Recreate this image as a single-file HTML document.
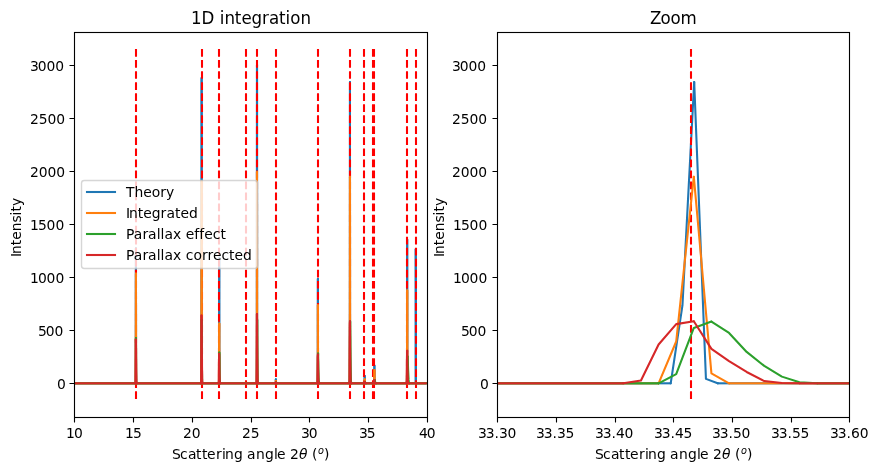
<!DOCTYPE html>
<html lang="en"><head><meta charset="utf-8"><title>1D integration</title>
<style>html,body{margin:0;padding:0;background:#fff;overflow:hidden}svg{display:block}text{font-family:"DejaVu Sans", "Liberation Sans", sans-serif;fill:#000}</style>
</head><body>
<svg width="879" height="475" viewBox="0 0 879 475">
<rect width="879" height="475" fill="#fff"/>
<defs>
<clipPath id="c0"><rect x="74.4" y="31.72" width="352.27" height="385"/></clipPath>
<clipPath id="c1"><rect x="497.13" y="31.72" width="352.27" height="385"/></clipPath>
</defs>
<g clip-path="url(#c0)" fill="none" stroke-width="2.08" stroke-linejoin="round" stroke-linecap="round">
<rect x="74.4" y="382.269" width="61.08" height="2.083" fill="#1f77b4" stroke="none"/><rect x="136.31" y="382.269" width="64.84" height="2.083" fill="#1f77b4" stroke="none"/><rect x="201.97" y="382.269" width="16.8" height="2.083" fill="#1f77b4" stroke="none"/><rect x="219.59" y="382.269" width="25.84" height="2.083" fill="#1f77b4" stroke="none"/><rect x="246.13" y="382.269" width="10.45" height="2.083" fill="#1f77b4" stroke="none"/><rect x="257.41" y="382.269" width="18.09" height="2.083" fill="#1f77b4" stroke="none"/><rect x="276.32" y="382.269" width="41.23" height="2.083" fill="#1f77b4" stroke="none"/><rect x="318.26" y="382.269" width="31.48" height="2.083" fill="#1f77b4" stroke="none"/><rect x="350.21" y="382.269" width="14.1" height="2.083" fill="#1f77b4" stroke="none"/><rect x="365.13" y="382.269" width="8.93" height="2.083" fill="#1f77b4" stroke="none"/><rect x="374.76" y="382.269" width="32.07" height="2.083" fill="#1f77b4" stroke="none"/><rect x="407.65" y="382.269" width="7.75" height="2.083" fill="#1f77b4" stroke="none"/><rect x="416.22" y="382.269" width="10.45" height="2.083" fill="#1f77b4" stroke="none"/><path d="M74.4 383.31h0.01M135.48 383.31h0.01M135.95 248.3L136.07 382.97L136.19 383.31L136.31 383.31M201.15 383.31L201.26 383.31L201.38 383.3L201.5 352.01L201.62 78.07M201.97 383.31h0.01M218.77 383.31h0.01M219.24 257.84L219.35 382.48L219.47 383.31L219.59 383.31M245.43 383.31L245.55 383.31L245.66 383.3L245.78 382.67M246.13 383.31h0.01M256.59 383.31h0.01M257.06 65.13L257.18 382.7L257.29 383.31L257.41 383.31M275.5 383.31L275.62 383.31L275.74 383.3L275.85 379.28M276.32 383.31h0.01M317.55 383.31h0.01M317.9 278.74L318.02 379.76L318.14 383.31L318.26 383.31M349.74 383.31L349.85 305.46L349.97 81.99M350.21 383.31h0.01M364.3 383.31h0.01M364.66 375.78L364.77 379.74L364.89 383.31L365.01 383.31L365.13 383.31M374.05 383.31L374.17 383.31L374.29 382.3L374.4 365.49M374.76 383.31h0.01M406.82 383.31h0.01M407.18 239.39L407.29 361.91L407.41 383.3L407.53 383.31L407.65 383.31M415.4 383.31L415.52 383.31L415.63 382.86L415.75 249.25M416.22 383.31h0.01M426.68 383.31h0.01" stroke="#1f77b4"/><path d="M135.48 383.31L135.6 383.31L135.72 383.16L135.84 279.1L135.95 248.3M136.31 383.31h0.01M201.15 383.31h0.01M201.62 78.07L201.73 377.59L201.85 383.31L201.97 383.31M218.77 383.31L218.88 383.31L219 383.29L219.12 346.93L219.24 257.84M219.59 383.31h0.01M245.43 383.31h0.01M245.78 382.67L245.9 383.24L246.02 383.31L246.13 383.31M256.59 383.31L256.71 383.31L256.82 382.7L256.94 65.27L257.06 65.13M257.41 383.31h0.01M275.5 383.31h0.01M275.85 379.28L275.97 381.14L276.09 383.31L276.21 383.31L276.32 383.31M317.55 383.31L317.67 383.31L317.79 377.39L317.9 278.74M318.26 383.31h0.01M349.74 383.31h0.01M349.97 81.99L350.09 378.86L350.21 383.31M364.3 383.31L364.42 383.31L364.54 383.28L364.66 375.78M365.13 383.31h0.01M374.05 383.31h0.01M374.4 365.49L374.52 382.7L374.64 383.31L374.76 383.31M406.82 383.31L406.94 383.31L407.06 381.45L407.18 239.39M407.65 383.31h0.01M415.4 383.31h0.01M415.75 249.25L415.87 307.18L415.99 383.23L416.1 383.31L416.22 383.31" stroke="#1f77b4"/>

<path d="M136 399V49M202 399V49M219 399V49M246 399V49M257 399V49M276 399V49M318 399V49M350 399V49M364 399V49M373 399V49M374 399V49M407 399V49M416 399V49" stroke="#ff0000" stroke-linecap="butt" stroke-dasharray="7.71 3.33"/>
<rect x="74.49" y="382.269" width="60.77" height="2.083" fill="#ff7f0e" stroke="none"/><rect x="136.49" y="382.269" width="64.47" height="2.083" fill="#ff7f0e" stroke="none"/><rect x="202.19" y="382.269" width="16.38" height="2.083" fill="#ff7f0e" stroke="none"/><rect x="219.8" y="382.269" width="25.36" height="2.083" fill="#ff7f0e" stroke="none"/><rect x="246.4" y="382.269" width="9.86" height="2.083" fill="#ff7f0e" stroke="none"/><rect x="257.67" y="382.269" width="17.61" height="2.083" fill="#ff7f0e" stroke="none"/><rect x="276.52" y="382.269" width="40.69" height="2.083" fill="#ff7f0e" stroke="none"/><rect x="318.62" y="382.269" width="31" height="2.083" fill="#ff7f0e" stroke="none"/><rect x="350.32" y="382.269" width="13.74" height="2.083" fill="#ff7f0e" stroke="none"/><rect x="365.29" y="382.269" width="8.45" height="2.083" fill="#ff7f0e" stroke="none"/><rect x="374.98" y="382.269" width="31.53" height="2.083" fill="#ff7f0e" stroke="none"/><rect x="407.92" y="382.269" width="18.67" height="2.083" fill="#ff7f0e" stroke="none"/><path d="M74.49 383.31h0.01M135.26 383.31h0.01M135.96 273.64L136.14 381.39L136.31 383.31L136.49 383.31M200.96 383.31L201.13 383.31L201.31 382.88L201.49 284.09L201.66 181.58M202.19 383.31h0.01M218.57 383.31h0.01M219.28 323.6L219.45 382.56L219.63 383.31L219.8 383.31M245.17 383.31L245.34 383.31L245.52 383.31L245.7 383.04L245.87 382.89M246.4 383.31h0.01M256.26 383.31h0.01M256.97 172.04L257.14 336.98L257.32 383.22L257.5 383.31L257.67 383.31M275.29 383.31L275.46 383.31L275.64 383.29L275.82 381.08M276.52 383.31h0.01M317.21 383.31h0.01M317.91 305.36L318.09 377.95L318.26 383.31L318.44 383.31L318.62 383.31M349.62 383.31L349.79 341.52L349.97 176.7M350.32 383.31h0.01M364.06 383.31h0.01M364.76 379.39L364.94 383.24L365.12 383.31L365.29 383.31M373.75 383.31L373.92 383.31L374.1 383.29L374.28 378.38L374.45 370.16M374.98 383.31h0.01M406.51 383.31h0.01M407.21 290.19L407.39 377.11L407.57 383.31L407.74 383.31L407.92 383.31" stroke="#ff7f0e"/><path d="M135.26 383.31L135.43 383.31L135.61 383.06L135.79 327.78L135.96 273.64M136.49 383.31h0.01M200.96 383.31h0.01M201.66 181.58L201.84 379.68L202.01 383.31L202.19 383.31M218.57 383.31L218.75 383.31L218.92 383.04L219.1 340.95L219.28 323.6M219.8 383.31h0.01M245.17 383.31h0.01M245.87 382.89L246.05 383.31L246.22 383.31L246.4 383.31M256.26 383.31L256.44 383.31L256.62 383.31L256.79 374.77L256.97 172.04M257.67 383.31h0.01M275.29 383.31h0.01M275.82 381.08L275.99 381.26L276.17 383.29L276.34 383.31L276.52 383.31M317.21 383.31L317.38 383.31L317.56 383.3L317.74 373.26L317.91 305.36M318.62 383.31h0.01M349.62 383.31h0.01M349.97 176.7L350.14 373.34L350.32 383.31M364.06 383.31L364.24 383.31L364.41 383.3L364.59 381.25L364.76 379.39M365.29 383.31h0.01M373.75 383.31h0.01M374.45 370.16L374.63 383L374.8 383.31L374.98 383.31M406.51 383.31L406.68 383.31L406.86 383.3L407.04 370.91L407.21 290.19M407.92 383.31h0.01M426.59 383.31h0.01" stroke="#ff7f0e"/>

<rect x="74.49" y="382.269" width="61.3" height="2.083" fill="#2ca02c" stroke="none"/><rect x="136.31" y="382.269" width="64.99" height="2.083" fill="#2ca02c" stroke="none"/><rect x="202.37" y="382.269" width="16.56" height="2.083" fill="#2ca02c" stroke="none"/><rect x="219.98" y="382.269" width="36.64" height="2.083" fill="#2ca02c" stroke="none"/><rect x="257.85" y="382.269" width="17.79" height="2.083" fill="#2ca02c" stroke="none"/><rect x="276.87" y="382.269" width="40.69" height="2.083" fill="#2ca02c" stroke="none"/><rect x="319.14" y="382.269" width="30.47" height="2.083" fill="#2ca02c" stroke="none"/><rect x="351.2" y="382.269" width="13.03" height="2.083" fill="#2ca02c" stroke="none"/><rect x="366.17" y="382.269" width="7.75" height="2.083" fill="#2ca02c" stroke="none"/><rect x="376.04" y="382.269" width="30.47" height="2.083" fill="#2ca02c" stroke="none"/><rect x="409.33" y="382.269" width="17.26" height="2.083" fill="#2ca02c" stroke="none"/><path d="M74.49 383.31h0.01M135.79 383.31h0.01M135.96 337.92L136.14 372.46L136.31 383.31M201.31 383.31L201.49 378.22L201.66 319.67M202.37 383.31h0.01M218.92 383.31h0.01M219.28 352.55L219.45 361.63L219.63 375.88L219.8 382.83L219.98 383.31M256.62 383.31L256.79 382.67L256.97 346.49L257.14 319.67M257.85 383.31h0.01M275.64 383.31h0.01M275.99 382.46L276.17 382.57L276.34 382.91L276.52 383.16L276.7 383.3L276.87 383.31M317.56 383.31L317.74 379.84L317.91 358.4L318.09 353.51M319.14 383.31h0.01M349.62 383.31h0.01M350.14 321.58L350.32 332.93L350.5 351.92L350.67 365.92L350.85 376.63L351.03 382.25L351.2 383.31M364.24 383.31L364.41 383.23L364.59 382.82L364.76 382.05L364.94 381.93M366.17 383.31h0.01M373.92 383.31h0.01M374.63 380.13L374.8 380.5L374.98 381.18L375.16 381.9L375.33 382.47L375.51 382.92L375.68 383.18L375.86 383.29L376.04 383.31M406.51 383.31L406.68 383.25L406.86 380.71L407.04 373.96L407.21 361.27L407.39 357.38L407.57 356.58M409.33 383.31h0.01M426.59 383.31h0.01" stroke="#2ca02c"/><path d="M135.79 383.31L135.96 337.92M136.31 383.31h0.01M201.31 383.31h0.01M201.66 319.67L201.84 340.77L202.01 371.65L202.19 382.91L202.37 383.31M218.92 383.31L219.1 379.56L219.28 352.55M219.98 383.31h0.01M256.62 383.31h0.01M257.14 319.67L257.32 341.91L257.5 365.86L257.67 379.63L257.85 383.31M275.64 383.31L275.82 383.06L275.99 382.46M276.87 383.31h0.01M317.56 383.31h0.01M318.09 353.51L318.26 360.46L318.44 370.19L318.62 377.21L318.79 381.67L318.97 383.17L319.14 383.31M349.62 383.31L349.79 374.08L349.97 327.95L350.14 321.58M351.2 383.31h0.01M364.24 383.31h0.01M364.94 381.93L365.12 382.16L365.29 382.52L365.47 382.82L365.64 383.05L365.82 383.21L366 383.29L366.17 383.31M373.92 383.31L374.1 383.09L374.28 382.2L374.45 380.4L374.63 380.13M376.04 383.31h0.01M406.51 383.31h0.01M407.57 356.58L407.74 359.71L407.92 364.06L408.09 369.28L408.27 373.17L408.45 376.69L408.62 379.63L408.8 381.52L408.97 382.88L409.15 383.18L409.33 383.31" stroke="#2ca02c"/>

<rect x="74.49" y="382.269" width="60.77" height="2.083" fill="#d62728" stroke="none"/><rect x="136.67" y="382.269" width="64.29" height="2.083" fill="#d62728" stroke="none"/><rect x="202.37" y="382.269" width="16.2" height="2.083" fill="#d62728" stroke="none"/><rect x="219.98" y="382.269" width="36.28" height="2.083" fill="#d62728" stroke="none"/><rect x="257.85" y="382.269" width="17.26" height="2.083" fill="#d62728" stroke="none"/><rect x="276.87" y="382.269" width="40.34" height="2.083" fill="#d62728" stroke="none"/><rect x="318.79" y="382.269" width="30.47" height="2.083" fill="#d62728" stroke="none"/><rect x="351.03" y="382.269" width="12.86" height="2.083" fill="#d62728" stroke="none"/><rect x="365.64" y="382.269" width="7.93" height="2.083" fill="#d62728" stroke="none"/><rect x="375.51" y="382.269" width="30.82" height="2.083" fill="#d62728" stroke="none"/><rect x="408.27" y="382.269" width="18.32" height="2.083" fill="#d62728" stroke="none"/><path d="M74.49 383.31h0.01M135.26 383.31h0.01M135.79 339.51L135.96 343.34L136.14 363.4L136.31 374.49L136.49 382.05L136.67 383.31M200.96 383.31L201.13 381.3L201.31 345.39L201.49 315.64M202.37 383.31h0.01M218.57 383.31h0.01M219.1 353.72L219.28 357.12L219.45 369.33L219.63 376.01L219.8 381.59L219.98 383.31M256.26 383.31L256.44 382.45L256.62 364.01L256.79 327.35L256.97 314.05M257.85 383.31h0.01M275.11 383.31h0.01M275.82 382.46L275.99 382.59L276.17 382.91L276.34 383.09L276.52 383.24L276.7 383.3L276.87 383.31M317.21 383.31L317.38 382.3L317.56 368.11L317.74 356.96L317.91 354.46M318.79 383.31h0.01M349.26 383.31h0.01M349.97 321.27L350.14 348.84L350.32 361.14L350.5 371.96L350.67 381.08L350.85 382.99L351.03 383.31M363.88 383.31L364.06 383.29L364.24 383.03L364.41 382.23L364.59 381.83M365.64 383.31h0.01M373.57 383.31h0.01M374.28 380.02L374.45 380.07L374.63 381.47L374.8 382.13L374.98 382.7L375.16 383.19L375.33 383.29L375.51 383.31M406.33 383.31L406.51 383.1L406.68 380.21L406.86 362.58L407.04 352.5L407.21 350.75M408.27 383.31h0.01M426.59 383.31h0.01" stroke="#d62728"/><path d="M135.26 383.31L135.43 382.63L135.61 363.64L135.79 339.51M136.67 383.31h0.01M200.96 383.31h0.01M201.49 315.64L201.66 320.56L201.84 350.44L202.01 366.22L202.19 379.4L202.37 383.31M218.57 383.31L218.75 382.21L218.92 364.34L219.1 353.72M219.98 383.31h0.01M256.26 383.31h0.01M256.97 314.05L257.14 336.41L257.32 356.34L257.5 370.31L257.67 381.02L257.85 383.31M275.11 383.31L275.29 383.31L275.46 383.21L275.64 382.7L275.82 382.46M276.87 383.31h0.01M317.21 383.31h0.01M317.91 354.46L318.09 366.44L318.26 372.83L318.44 378.08L318.62 382.32L318.79 383.31M349.26 383.31L349.44 380.55L349.62 344.49L349.79 324.13L349.97 321.27M351.03 383.31h0.01M363.88 383.31h0.01M364.59 381.83L364.76 381.9L364.94 382.51L365.12 382.8L365.29 383.06L365.47 383.26L365.64 383.31M373.57 383.31L373.75 383.28L373.92 382.76L374.1 380.98L374.28 380.02M375.51 383.31h0.01M406.33 383.31h0.01M407.21 350.75L407.39 362.82L407.57 370.19L407.74 375.72L407.92 380.48L408.09 382.74L408.27 383.31" stroke="#d62728"/>

</g>
<g stroke="#000" stroke-width="1.11" fill="none">
<rect x="74.5" y="32.5" width="353" height="385"/>
<path d="M74.5 417.5V422.5M133.5 417.5V422.5M192.5 417.5V422.5M251.5 417.5V422.5M309.5 417.5V422.5M368.5 417.5V422.5M427.5 417.5V422.5M74.5 383.5H69.5M74.5 330.5H69.5M74.5 277.5H69.5M74.5 224.5H69.5M74.5 171.5H69.5M74.5 118.5H69.5M74.5 65.5H69.5"/>
</g>
<g clip-path="url(#c1)" fill="none" stroke-width="2.08" stroke-linejoin="round" stroke-linecap="round">
<rect x="494.13" y="382.269" width="176.57" height="2.083" fill="#1f77b4" stroke="none"/><rect x="717.69" y="382.269" width="134.72" height="2.083" fill="#1f77b4" stroke="none"/><path d="M459.27 383.31h0.01M670.7 383.31h0.01M694.19 81.99L705.94 378.86L717.69 383.31" stroke="#1f77b4"/><path d="M670.7 383.31L682.45 305.46L694.19 81.99M717.69 383.31h0.01M882.14 383.31h0.01" stroke="#1f77b4"/>
<path d="M691 399V49" stroke="#ff0000" stroke-linecap="butt" stroke-dasharray="7.71 3.33"/>
<rect x="494.13" y="382.269" width="164.46" height="2.083" fill="#ff7f0e" stroke="none"/><rect x="729.04" y="382.269" width="123.36" height="2.083" fill="#ff7f0e" stroke="none"/><path d="M464.84 383.31h0.01M658.59 383.31h0.01M693.82 176.7L711.43 373.34L729.04 383.31" stroke="#ff7f0e"/><path d="M658.59 383.31L676.2 341.52L693.82 176.7M729.04 383.31h0.01M887.57 383.31h0.01" stroke="#ff7f0e"/>
<rect x="494.13" y="382.269" width="164.46" height="2.083" fill="#2ca02c" stroke="none"/><rect x="817.11" y="382.269" width="35.29" height="2.083" fill="#2ca02c" stroke="none"/><path d="M464.84 383.31h0.01M658.59 383.31h0.01M711.43 321.58L729.04 332.93L746.66 351.92L764.27 365.92L781.88 376.63L799.5 382.25L817.11 383.31" stroke="#2ca02c"/><path d="M658.59 383.31L676.2 374.08L693.82 327.95L711.43 321.58M817.11 383.31h0.01M887.57 383.31h0.01" stroke="#2ca02c"/>
<rect x="494.13" y="382.269" width="129.23" height="2.083" fill="#d62728" stroke="none"/><rect x="799.5" y="382.269" width="52.91" height="2.083" fill="#d62728" stroke="none"/><path d="M464.84 383.31h0.01M623.36 383.31h0.01M693.82 321.27L711.43 348.84L729.04 361.14L746.66 371.96L764.27 381.08L781.88 382.99L799.5 383.31" stroke="#d62728"/><path d="M623.36 383.31L640.97 380.55L658.59 344.49L676.2 324.13L693.82 321.27M799.5 383.31h0.01M887.57 383.31h0.01" stroke="#d62728"/>
</g>
<g stroke="#000" stroke-width="1.11" fill="none">
<rect x="497.5" y="32.5" width="352" height="385"/>
<path d="M497.5 417.5V422.5M556.5 417.5V422.5M615.5 417.5V422.5M673.5 417.5V422.5M732.5 417.5V422.5M791.5 417.5V422.5M849.5 417.5V422.5M497.5 383.5H492.5M497.5 330.5H492.5M497.5 277.5H492.5M497.5 224.5H492.5M497.5 171.5H492.5M497.5 118.5H492.5M497.5 65.5H492.5"/>
</g>
<g font-size="13.89">
<text x="66 73.88" y="438">10</text>
<text x="125 132.88" y="438">15</text>
<text x="183 191.75" y="438">20</text>
<text x="242 250.75" y="438">25</text>
<text x="301 308.75" y="438">30</text>
<text x="359 366.75" y="438">35</text>
<text x="419 426.75" y="438">40</text>
<text x="57" y="389">0</text>
<text x="38 45.75 54.5" y="336">500</text>
<text x="30 37.88 46.62 55.38" y="283">1000</text>
<text x="30 37.88 46.62 55.38" y="230">1500</text>
<text x="30 38.75 47.5 56.25" y="177">2000</text>
<text x="30 38.75 47.5 56.25" y="124">2500</text>
<text x="30 37.75 46.5 55.25" y="71">3000</text>
<text><tspan x="172 180 188 196 202 207 216 222 225 234 243 247 256 265 274 277 286 290" y="459">Scattering angle 2</tspan><tspan x="299" y="459" font-style="oblique">θ</tspan><tspan x="308 312" y="459"> (</tspan><tspan x="318" y="454" font-size="9.72" font-style="oblique">o</tspan><tspan x="324" y="459">)</tspan></text>
<text transform="translate(21 256) rotate(-90)" x="-1 2 10.75 16.25 24.75 33.5 40.62 44.5 50" y="0">Intensity</text>
<text x="478 485.75 494.5 498.88 507.62" y="438">33.30</text>
<text x="536 543.75 552.5 556.88 565.62" y="438">33.35</text>
<text x="595 602.75 611.5 615.88 624.62" y="438">33.40</text>
<text x="654 661.75 670.5 674.88 683.62" y="438">33.45</text>
<text x="712 719.75 728.5 732.88 741.62" y="438">33.50</text>
<text x="771 778.75 787.5 791.88 800.62" y="438">33.55</text>
<text x="830 837.75 846.5 850.88 859.75" y="438">33.60</text>
<text x="480" y="389">0</text>
<text x="461 468.75 477.5" y="336">500</text>
<text x="453 460.88 469.62 478.38" y="283">1000</text>
<text x="453 460.88 469.62 478.38" y="230">1500</text>
<text x="452 460.75 469.5 478.25" y="177">2000</text>
<text x="452 460.75 469.5 478.25" y="124">2500</text>
<text x="452 459.75 468.5 477.25" y="71">3000</text>
<text><tspan x="595 603 611 619 625 630 639 645 648 657 666 670 679 688 697 700 709 713" y="459">Scattering angle 2</tspan><tspan x="722" y="459" font-style="oblique">θ</tspan><tspan x="731 735" y="459"> (</tspan><tspan x="741" y="454" font-size="9.72" font-style="oblique">o</tspan><tspan x="747" y="459">)</tspan></text>
<text transform="translate(444 256) rotate(-90)" x="-1 2 10.75 16.25 24.75 33.5 40.62 44.5 50" y="0">Intensity</text>
</g>
<g font-size="16.67" transform="translate(0 24) scale(1 1.083)">
<text x="191 201.62 214.5 219.75 224.38 234.88 241.38 251.62 262.12 269 279.12 285.62 290.25 300.38" y="0">1D integration</text>
<text x="650 660.38 670.5 680.62" y="0">Zoom</text>
</g>
<rect x="81.5" y="180.5" width="176" height="88" rx="2.78" ry="2.78" fill="#fff" stroke="#ccc" stroke-width="1.39" opacity="0.8"/>
<g font-size="13.89" stroke-width="2.08" stroke-linecap="square">
<path d="M87 192H115" stroke="#1f77b4"/>
<text x="126 134.5 143.25 151.75 160.25 166" y="197">Theory</text>
<path d="M87 213H115" stroke="#ff7f0e"/>
<text x="126 129 137.75 143.25 151.75 160.62 166.38 175 180.5 189" y="218">Integrated</text>
<path d="M87 234H115" stroke="#2ca02c"/>
<text x="126 133.75 142.38 148.12 156.75 160.62 164.5 173.12 181.38 185.75 194.25 199.25 204.25 212.75 220.38" y="239">Parallax effect</text>
<path d="M87 255H115" stroke="#d62728"/>
<text x="126 133.75 142.38 148.12 156.75 160.62 164.5 173.12 181.38 185.75 193.38 201.88 207.38 212.88 221.38 229 234.5 243" y="260">Parallax corrected</text>
</g>
</svg></body></html>
